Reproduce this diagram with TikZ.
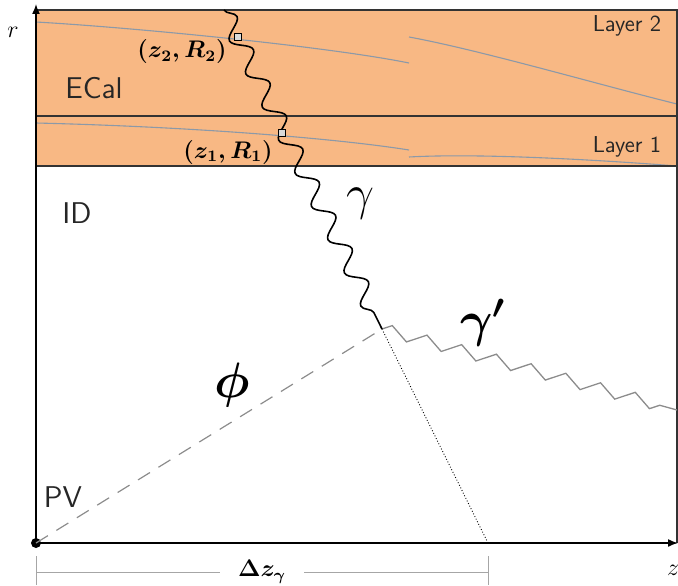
\documentclass[tikz,border=0pt]{standalone}
\usepackage{amsmath,amssymb}
\usepackage{tikz}
\usetikzlibrary{arrows.meta,positioning,decorations.pathmorphing}
\definecolor{ecalorange}{HTML}{F8B884}
\definecolor{trackgray}{HTML}{8C99A8}
\definecolor{framegray}{HTML}{333333}

\begin{document}
\begin{tikzpicture}[x=0.5pt,y=0.5pt,
    lbl/.style={font=\sffamily\fontsize{15}{18}\selectfont,text=black!85},
    layerlbl/.style={font=\sffamily\fontsize{11.5}{13}\selectfont,text=black!85},
    hitlbl/.style={font=\fontsize{12}{14}\selectfont},
    biglbl/.style={font=\fontsize{25}{30}\selectfont},
    track/.style={trackgray,line width=0.55pt},
    hit/.style={draw=black,fill=black!15,line width=0.4pt,minimum size=3.6pt,inner sep=0pt},
    photon/.style={decorate,decoration={snake,segment length=18.5pt,amplitude=4.4pt},line width=0.8pt},
    softphoton/.style={black!45,line width=0.65pt,decorate,decoration={zigzag,segment length=18pt,amplitude=3pt}},
    vtxline/.style={black!45,line width=0.6pt,dash pattern=on 7pt off 5pt}]
        \useasboundingbox (0,0) rectangle (678,585);
        \coordinate (PV) at (36,42);
        \coordinate (conv) at (382,256);
        \coordinate (foot) at (488,42);
        \coordinate (gtop) at (224,575);
        \coordinate (gend) at (677,175);
        \coordinate (rtip) at (36,581);
        \coordinate (ztip) at (678,42);
        % calorimeter and the two layers
        \fill[ecalorange] (36,419) rectangle (677,575);
        \draw[track] (36,563) .. controls (140,557) and (330,538) .. (409,522);
        \draw[track] (409,548) .. controls (480,535) and (600,500) .. (677,481);
        \draw[track] (36,462) .. controls (200,458) and (340,446) .. (409,435);
        \draw[track] (409,428) .. controls (480,432) and (600,425) .. (677,419);
        \draw[framegray,line width=0.8pt] (36,575) -- (677,575) -- (677,42);
        \draw[framegray,line width=0.6pt] (36,469) -- (677,469);
        \draw[framegray,line width=0.8pt] (36,419) -- (677,419);
        % axes
        \draw[line width=0.75pt,-{Latex[length=5pt,width=4pt]}] (PV) -- (rtip);
        \draw[line width=0.75pt,-{Latex[length=5pt,width=4pt]}] (PV) -- (ztip);
        \fill (PV) circle (2.5pt);
        \node[font=\fontsize{12}{14}\selectfont] (rlbl) at (13,553) {$r$};
        \node[font=\fontsize{12}{14}\selectfont] (zlbl) at (673,15) {$z$};
        % photon and conversion
        \draw[vtxline] (PV) -- (conv);
        \draw[densely dotted,line width=0.45pt] (conv) -- (foot);
        \draw[softphoton] (conv) -- (gend);
        \draw[photon] (gtop) -- (conv);
        \node[hit] (hit2) at (238,548) {};
        \node[hit] (hit1) at (282,452) {};
        % labels
        \node[layerlbl] (lay2) at (627,559) {Layer 2};
        \node[layerlbl] (lay1) at (627,438) {Layer 1};
        \node[lbl] (ecal) at (94,497) {ECal};
        \node[lbl] (id) at (77,372) {ID};
        \node[lbl] (pvlbl) at (63,88) {PV};
        \node[hitlbl] (zr2) at (182,533) {$\boldsymbol{(z_2,R_2)}$};
        \node[hitlbl] (zr1) at (228,433) {$\boldsymbol{(z_1,R_1)}$};
        \node[biglbl] (glbl) at (360,381) {$\gamma$};
        \node[biglbl] (gplbl) at (483,262) {$\boldsymbol{\gamma'}$};
        \node[biglbl] (philbl) at (232,200) {$\boldsymbol{\phi}$};
        % conversion distance
        \coordinate (dzL) at (36,13);
        \coordinate (dzR) at (488,13);
        \draw[black!35,line width=0.5pt] (36,29) -- (36,0);
        \draw[black!35,line width=0.5pt] (488,29) -- (488,0);
        \draw[black!35,line width=0.5pt] (dzL) -- (dzR)
              node[midway,fill=white,inner xsep=9pt,text=black,font=\fontsize{12}{14}\selectfont] (dzlbl) {$\boldsymbol{\Delta z_\gamma}$};
      \end{tikzpicture}
\end{document}
